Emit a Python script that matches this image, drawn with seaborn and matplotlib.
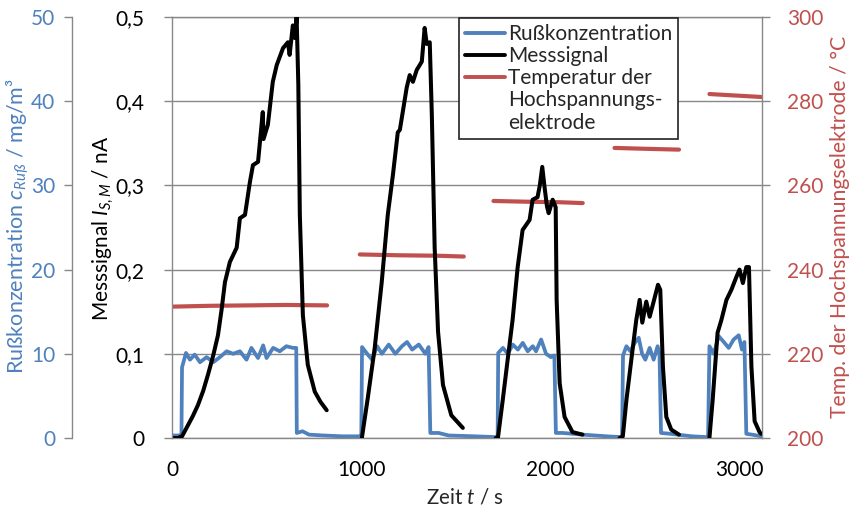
import matplotlib
matplotlib.use("Agg")
import matplotlib.pyplot as plt
from matplotlib.lines import Line2D
from matplotlib.ticker import FixedLocator, FuncFormatter
import seaborn as sns

# ---------------- data ----------------
blue_t = [0, 40, 50, 53, 58, 74, 95, 120, 148, 183, 218, 253, 289, 324, 359, 394, 420, 455, 482, 500,
          535, 570, 605, 640, 657, 660, 690, 725, 800, 900, 998, 1001, 1005, 1032, 1058, 1085, 1110,
          1146, 1181, 1216, 1243, 1270, 1305, 1340, 1357, 1366, 1410, 1463, 1600, 1722, 1725, 1750,
          1776, 1802, 1829, 1855, 1881, 1908, 1925, 1952, 1978, 2004, 2022, 2030, 2066, 2171, 2300,
          2380, 2385, 2403, 2424, 2447, 2468, 2486, 2503, 2526, 2547, 2568, 2578, 2586, 2635, 2750,
          2835, 2842, 2865, 2891, 2918, 2944, 2970, 2997, 3014, 3027, 3037, 3067, 3117]
blue_v = [0.3, 0.3, 0.2, 8.4, 8.8, 10.1, 9.3, 9.9, 9.0, 9.6, 9.0, 9.6, 10.3, 10.0, 10.3, 9.3, 10.7, 9.5, 11.0, 9.5,
          10.7, 10.3, 10.9, 10.7, 10.7, 0.6, 0.8, 0.4, 0.3, 0.2, 0.2, 0.2, 10.8, 10.0, 9.3, 10.9, 10.0,
          11.1, 10.0, 10.9, 11.4, 10.5, 11.1, 10.0, 10.8, 0.6, 0.6, 0.3, 0.2, 0.1, 10.1, 10.7,
          10.0, 11.1, 10.5, 11.3, 10.3, 10.9, 10.3, 11.7, 10.0, 9.6, 9.8, 0.6, 0.6, 0.4, 0.2,
          0.1, 9.8, 10.9, 10.3, 11.3, 11.9, 10.0, 9.3, 10.7, 9.3, 10.9, 10.0, 0.6, 0.5, 0.2,
          0.1, 10.9, 10.0, 12.1, 11.4, 10.7, 11.7, 12.2, 10.5, 11.4, 0.5, 0.4, 0.2]

sig1_t = [0, 30, 53, 84, 110, 137, 165, 190, 218, 243, 262, 280, 306, 342, 359, 386, 412, 428, 455, 480,
          484, 507, 533, 554, 587, 613, 622, 639, 650, 659, 668, 676, 692, 718, 755, 785, 818]
sig1_v = [0, 0, 0.002, 0.015, 0.026, 0.039, 0.056, 0.075, 0.098, 0.122, 0.152, 0.185, 0.209, 0.226, 0.261,
          0.265, 0.304, 0.324, 0.328, 0.387, 0.355, 0.372, 0.423, 0.443, 0.463, 0.47, 0.455, 0.49, 0.475,
          0.5, 0.42, 0.265, 0.146, 0.087, 0.055, 0.043, 0.033]
sig2_t = [1004, 1035, 1072, 1109, 1141, 1168, 1194, 1205, 1241, 1257, 1274, 1294, 1321, 1336, 1347, 1363,
          1374, 1389, 1407, 1433, 1477, 1538]
sig2_v = [0, 0.047, 0.107, 0.185, 0.265, 0.312, 0.363, 0.366, 0.416, 0.431, 0.423, 0.437, 0.447, 0.487,
          0.468, 0.47, 0.384, 0.226, 0.126, 0.063, 0.027, 0.012]
sig3_t = [1712, 1724, 1749, 1775, 1801, 1828, 1854, 1891, 1907, 1933, 1945, 1958, 1970, 1983, 1992, 2013,
          2029, 2034, 2050, 2076, 2118, 2171]
sig3_v = [0, 0.001, 0.045, 0.093, 0.14, 0.203, 0.247, 0.259, 0.283, 0.286, 0.3, 0.322, 0.298, 0.275,
          0.267, 0.283, 0.274, 0.164, 0.065, 0.025, 0.007, 0.004]
sig4_t = [2367, 2384, 2403, 2429, 2455, 2473, 2487, 2508, 2526, 2547, 2570, 2582, 2596, 2614, 2640, 2681]
sig4_v = [0, 0.002, 0.045, 0.093, 0.14, 0.164, 0.137, 0.162, 0.144, 0.162, 0.182, 0.176, 0.085, 0.025,
          0.01, 0.004]
sig5_t = [2842, 2859, 2885, 2905, 2932, 2958, 2984, 3001, 3019, 3037, 3051, 3064, 3081, 3107, 3115]
sig5_v = [0, 0.045, 0.125, 0.14, 0.164, 0.176, 0.191, 0.2, 0.184, 0.203, 0.203, 0.085, 0.02, 0.007, 0.005]

temp1_t = [0, 200, 400, 600, 820]
temp1_v = [231.2, 231.4, 231.5, 231.6, 231.5]
temp2_t = [993, 1200, 1400, 1543]
temp2_v = [243.6, 243.4, 243.3, 243.1]
temp3_t = [1700, 1900, 2050, 2172]
temp3_v = [256.3, 256.1, 256.0, 255.8]
temp4_t = [2340, 2500, 2681]
temp4_v = [268.9, 268.7, 268.5]
temp5_t = [2842, 3000, 3117]
temp5_v = [281.7, 281.3, 281.0]

x_ticks = [0, 1000, 2000, 3000]
blue_ticks = [0, 10, 20, 30, 40, 50]
sig_ticks = [0, 0.1, 0.2, 0.3, 0.4, 0.5]
temp_ticks = [200, 220, 240, 260, 280, 300]

legend_labels = ["Rußkonzentration", "Messsignal", "Temperatur der", "Hochspannungs-", "elektrode"]

# ---------------- style ----------------
sns.set_style("white")
FONT = "Lato"
plt.rcParams["font.family"] = [FONT, "DejaVu Sans"]
plt.rcParams["mathtext.fontset"] = "custom"
plt.rcParams["mathtext.it"] = FONT + ":italic"
plt.rcParams["mathtext.rm"] = FONT
plt.rcParams["mathtext.default"] = "it"

BLUE = "#4F81BD"
RED = "#C0504D"
GRAY = "#888888"
FS_TICK = 15
FS_LAB = 14
FS_LEG = 15

W, H = 854, 515
fig = plt.figure(figsize=(W / 100, H / 100), dpi=100)
AX_L, AX_R, AX_T, AX_B = 172, 762, 17, 438
ax0 = fig.add_axes([AX_L / W, 1 - AX_B / H, (AX_R - AX_L) / W, (AX_B - AX_T) / H])   # blue (conc.)
ax1 = ax0.twinx()                                                   # red (temp)
ax2 = ax0.twinx()                                                   # black (signal)

# blue
sns.lineplot(x=blue_t, y=blue_v, ax=ax0, color=BLUE, linewidth=2.7, estimator=None, sort=False, legend=False)
# red
for tt, vv in [(temp1_t, temp1_v), (temp2_t, temp2_v), (temp3_t, temp3_v), (temp4_t, temp4_v), (temp5_t, temp5_v)]:
    sns.lineplot(x=tt, y=vv, ax=ax1, color=RED, linewidth=3.0, estimator=None, sort=False, legend=False)
# black
for tt, vv in [(sig1_t, sig1_v), (sig2_t, sig2_v), (sig3_t, sig3_v), (sig4_t, sig4_v), (sig5_t, sig5_v)]:
    sns.lineplot(x=tt, y=vv, ax=ax2, color="black", linewidth=2.9, estimator=None, sort=False, legend=False)

ax0.set_xlim(0, 3120)
ax0.set_ylim(0, 50)
ax1.set_ylim(200, 300)
ax2.set_ylim(0, 0.5)

# ---- axis 0 (blue, outer left) ----
ax0.spines["right"].set_visible(False)
ax0.spines["left"].set_position(("axes", -100 / 590))
for s in ["left", "bottom", "top"]:
    ax0.spines[s].set_color(GRAY)
    ax0.spines[s].set_linewidth(1.0)
ax0.yaxis.set_major_locator(FixedLocator(blue_ticks))
ax0.yaxis.tick_left()
ax0.tick_params(axis="y", direction="out", length=6, width=1, color=GRAY, labelcolor=BLUE,
                labelsize=FS_TICK, pad=6)
ax0.xaxis.set_major_locator(FixedLocator(x_ticks))
ax0.tick_params(axis="x", direction="out", length=6, width=1, color=GRAY, labelcolor="black",
                labelsize=FS_TICK, pad=10)
ax0.yaxis.grid(True, color=GRAY, linewidth=1.0)
ax0.xaxis.grid(False)
ax0.set_ylabel("Rußkonzentration $c_{Ruß}$ / mg/m³", color=BLUE, fontsize=FS_LAB)
ax0.set_xlabel("Zeit $t$ / s", fontsize=FS_LAB)

# ---- axis 1 (red, right) ----
for s in ["left", "top", "bottom"]:
    ax1.spines[s].set_visible(False)
ax1.spines["right"].set_color(GRAY)
ax1.spines["right"].set_linewidth(1.0)
ax1.yaxis.set_major_locator(FixedLocator(temp_ticks))
ax1.tick_params(axis="y", direction="out", length=6, width=1, color=GRAY, labelcolor=RED,
                labelsize=FS_TICK, pad=12)
ax1.set_ylabel("Temp. der Hochspannungselektrode / °C", color=RED, fontsize=FS_LAB)
ax1.grid(False)

# ---- axis 2 (black, inner left) ----
for s in ["right", "top", "bottom"]:
    ax2.spines[s].set_visible(False)
ax2.spines["left"].set_visible(True)
ax2.spines["left"].set_color(GRAY)
ax2.spines["left"].set_linewidth(1.0)
ax2.yaxis.tick_left()
ax2.yaxis.set_label_position("left")
ax2.yaxis.set_major_locator(FixedLocator(sig_ticks))
ax2.yaxis.set_major_formatter(FuncFormatter(lambda v, p: "0" if v == 0 else f"{v:.1f}".replace(".", ",")))
ax2.tick_params(axis="y", direction="out", length=6, width=1, color=GRAY, labelcolor="black",
                labelsize=FS_TICK, pad=14)
ax2.set_ylabel("Messsignal $I_{S,M}$ / nA", color="black", fontsize=FS_LAB)
ax2.grid(False)

# ---- label placement: (axis, target length px, centre x px, centre y px, vertical?)
def px2ax(xp, yp):
    return (xp - AX_L) / (AX_R - AX_L), (AX_B - yp) / (AX_B - AX_T)

label_specs = [
    (ax0.yaxis, 295, 18, 226, True),
    (ax2.yaxis, 185, 103, 228, True),
    (ax1.yaxis, 380, 840, 227, True),
    (ax0.xaxis, 78, 465, 497, False),
]
for axis, _, xc, yc, _v in label_specs:
    axis.set_label_coords(*px2ax(xc, yc))
    axis.label.set_verticalalignment("center")
    axis.label.set_horizontalalignment("center")
    axis.label.set_rotation_mode("anchor")

for _ in range(3):
    fig.canvas.draw()
    r = fig.canvas.get_renderer()
    for axis, target, xc, yc, vert in label_specs:
        bb = axis.label.get_window_extent(r)
        length = bb.height if vert else bb.width
        axis.label.set_fontsize(axis.label.get_fontsize() * target / length)

# ---- legend ----
handles = [Line2D([], [], color=BLUE, lw=2.8),
           Line2D([], [], color="black", lw=2.8),
           Line2D([], [], color=RED, lw=2.8),
           Line2D([], [], color="none"),
           Line2D([], [], color="none")]
leg = ax2.legend(handles, legend_labels, loc="upper left", bbox_to_anchor=(459 / W, 1 - 18 / H),
                 bbox_transform=fig.transFigure, borderaxespad=0, fontsize=FS_LEG, frameon=True,
                 fancybox=False, framealpha=1, edgecolor="#222222", handlelength=1.9,
                 handletextpad=0.15, labelspacing=0.1, borderpad=0.3)
leg.get_frame().set_linewidth(1.2)

fig.savefig("out.png", dpi=100)
